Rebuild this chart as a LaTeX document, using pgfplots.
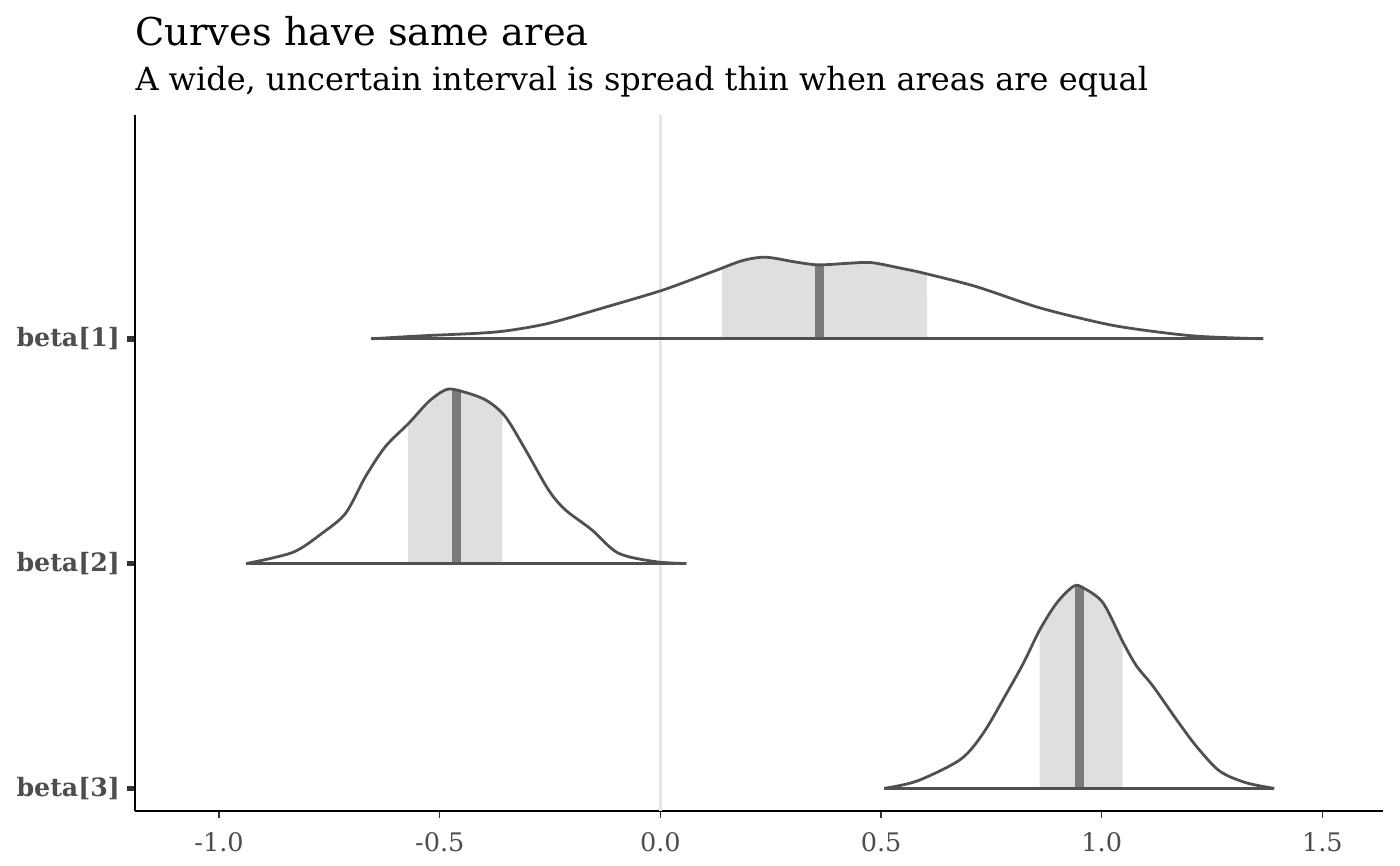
\documentclass[border=0pt]{standalone}
\usepackage{fontspec}
\setmainfont{DejaVu Serif}
\usepackage{pgfplots}
\pgfplotsset{compat=1.18}
\usepgfplotslibrary{fillbetween}
\usepackage{pgfplotstable}

\definecolor{curve}{HTML}{505050}
\definecolor{band}{HTML}{DFDFDF}
\definecolor{med}{HTML}{7A7A7A}
\definecolor{zero}{HTML}{E5E5E5}
\definecolor{ticktxt}{HTML}{4D4D4D}

% density estimates, x and height above the row's baseline
\pgfplotstableread{
x h
-0.655 0
-0.544 0.013
-0.411 0.025
-0.344 0.037
-0.251 0.070
-0.119 0.144
0.007 0.218
0.120 0.300
0.186 0.348
0.239 0.363
0.305 0.342
0.358 0.329
0.425 0.336
0.478 0.339
0.545 0.314
0.597 0.292
0.716 0.232
0.849 0.144
0.951 0.092
1.048 0.052
1.207 0.013
1.366 0
}\bone

\pgfplotstableread{
x h
-0.939 0
-0.833 0.050
-0.766 0.136
-0.713 0.225
-0.668 0.388
-0.623 0.521
-0.570 0.625
-0.525 0.721
-0.487 0.773
-0.457 0.770
-0.397 0.729
-0.352 0.655
-0.306 0.507
-0.254 0.329
-0.216 0.240
-0.156 0.151
-0.096 0.047
-0.013 0.009
0.059 0
}\btwo

\pgfplotstableread{
x h
0.507 0
0.582 0.033
0.680 0.129
0.732 0.247
0.785 0.425
0.823 0.559
0.860 0.707
0.898 0.825
0.936 0.899
0.958 0.892
1.003 0.825
1.049 0.647
1.079 0.544
1.116 0.455
1.169 0.307
1.214 0.188
1.267 0.077
1.327 0.025
1.391 0
}\bthree

\begin{document}
\begin{tikzpicture}
\begin{axis}[
  at={(0,0)}, anchor=south west,
  scale only axis, width=449.3pt, height=250.6pt,
  xmin=-1.1906, xmax=1.6374, ymin=-0.100, ymax=2.997,
  axis x line*=bottom, axis y line*=left,
  axis line style={black, line width=0.8pt, -},
  xtick={-1,-0.5,0,0.5,1,1.5},
  xticklabels={-1.0,-0.5,0.0,0.5,1.0,1.5},
  ytick={0,1,2}, yticklabels={beta[3],beta[2],beta[1]},
  tick align=outside, major tick length=2.75pt,
  xtick style={color=black!80, line width=0.5pt},
  ytick style={color=black!80, line width=2pt},
  xticklabel style={font=\fontsize{9.2}{11}\selectfont, text=ticktxt, anchor=base, yshift=-11.9pt},
  yticklabel style={font=\fontsize{9.1}{11}\selectfont\bfseries, text=ticktxt, anchor=east, inner sep=0pt, xshift=-2.5pt},
]
\addplot[zero, line width=1pt] coordinates {(0,-0.1) (0,2.997)};

% beta[1]
\addplot[draw=none, smooth, name path=c1] table[x=x, y expr=\thisrow{h}+2] {\bone};
\path[name path=b1] (axis cs:-1.2,2) -- (axis cs:1.7,2);
\addplot[band, draw=none] fill between[of=c1 and b1, soft clip={domain=0.140:0.604}];
\addplot[med, line width=3.2pt] coordinates {(0.361,2) (0.361,2.324)};
\addplot[curve, line width=1pt, smooth] table[x=x, y expr=\thisrow{h}+2] {\bone};
\addplot[curve, line width=1pt] coordinates {(-0.655,2) (1.366,2)};

% beta[2]
\addplot[draw=none, smooth, name path=c2] table[x=x, y expr=\thisrow{h}+1] {\btwo};
\path[name path=b2] (axis cs:-1.2,1) -- (axis cs:1.7,1);
\addplot[band, draw=none] fill between[of=c2 and b2, soft clip={domain=-0.572:-0.358}];
\addplot[med, line width=3.2pt] coordinates {(-0.463,1) (-0.463,1.768)};
\addplot[curve, line width=1pt, smooth] table[x=x, y expr=\thisrow{h}+1] {\btwo};
\addplot[curve, line width=1pt] coordinates {(-0.939,1) (0.059,1)};

% beta[3]
\addplot[draw=none, smooth, name path=c3] table[x=x, y expr=\thisrow{h}] {\bthree};
\path[name path=b3] (axis cs:-1.2,0) -- (axis cs:1.7,0);
\addplot[band, draw=none] fill between[of=c3 and b3, soft clip={domain=0.859:1.047}];
\addplot[med, line width=3.2pt] coordinates {(0.949,0) (0.949,0.895)};
\addplot[curve, line width=1pt, smooth] table[x=x, y expr=\thisrow{h}] {\bthree};
\addplot[curve, line width=1pt] coordinates {(0.507,0) (1.391,0)};
\end{axis}
\node[anchor=base west, inner sep=0pt, font=\fontsize{13.8}{16}\selectfont] at (0pt,275.6pt) {Curves have same area};
\node[anchor=base west, inner sep=0pt, font=\fontsize{11.5}{14}\selectfont] at (0pt,259.5pt) {A wide, uncertain interval is spread thin when areas are equal};
\path (-48.6pt,-19.8pt) rectangle (455.4pt,291.9pt);
\end{tikzpicture}
\end{document}
